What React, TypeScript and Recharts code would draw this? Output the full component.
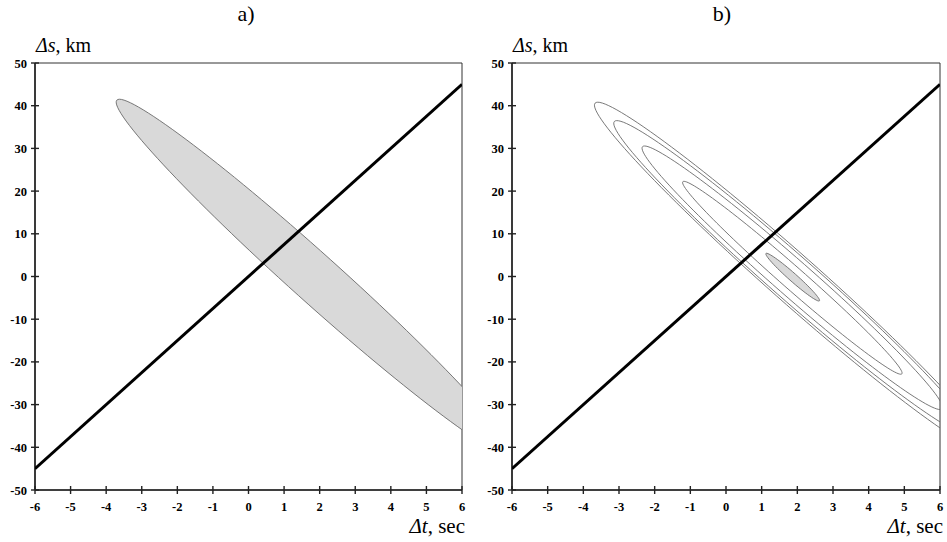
import React from 'react'
import { ScatterChart, Scatter, XAxis, YAxis, ReferenceArea } from 'recharts'

// Δt (sec) / Δs (km) axes
const X_TICKS = [-6, -5, -4, -3, -2, -1, 0, 1, 2, 3, 4, 5, 6]
const Y_TICKS = [-50, -40, -30, -20, -10, 0, 10, 20, 30, 40, 50]

const LINE_PTS = [
  { t: -6, s: -45 },
  { t: 6, s: 45 },
]

// Each ellipse = 4 key points:
// lower-right tip, side, upper-left tip, other side (ends of two conjugate semi-axes)
const REGION_A = [
  { t: 7.42, s: -41.9 },
  { t: 1.41, s: -4.5 },
  { t: -3.7, s: 41.3 },
  { t: 2.31, s: 3.9 },
]

const CONTOUR_1 = [
  { t: 7.39, s: -41.2 },
  { t: 1.41, s: -4.5 },
  { t: -3.67, s: 40.6 },
  { t: 2.31, s: 3.9 },
]
const CONTOUR_2 = [
  { t: 6.85, s: -36.9 },
  { t: 1.45, s: -4.15 },
  { t: -3.13, s: 36.3 },
  { t: 2.27, s: 3.55 },
]
const CONTOUR_3 = [
  { t: 6.06, s: -31.0 },
  { t: 1.525, s: -3.45 },
  { t: -2.34, s: 30.4 },
  { t: 2.195, s: 2.85 },
]
const CONTOUR_4 = [
  { t: 4.93, s: -22.8 },
  { t: 1.65, s: -2.27 },
  { t: -1.21, s: 22.2 },
  { t: 2.07, s: 1.67 },
]
const CORE = [
  { t: 2.62, s: -5.7 },
  { t: 1.795, s: -0.85 },
  { t: 1.12, s: 5.4 },
  { t: 1.945, s: 0.55 },
]

const SERIF = "'Liberation Serif', 'Times New Roman', Times, serif"
const AXIS = '#222'

type Pt = { x: number; y: number }

// closed ellipse through 4 conjugate points (already in pixels), 4 cubic arcs
function ellipseD(pts: Pt[]) {
  const [p0, p1, p2, p3] = pts
  const cx = (p0.x + p2.x) / 2
  const cy = (p0.y + p2.y) / 2
  const ax = (p0.x - p2.x) / 2
  const ay = (p0.y - p2.y) / 2
  const bx = (p1.x - p3.x) / 2
  const by = (p1.y - p3.y) / 2
  const k = 0.5523
  const P = (u: number, v: number) => `${cx + u * ax + v * bx},${cy + u * ay + v * by}`
  return (
    `M${P(1, 0)}` +
    `C${P(1, k)} ${P(k, 1)} ${P(0, 1)}` +
    `C${P(-k, 1)} ${P(-1, k)} ${P(-1, 0)}` +
    `C${P(-1, -k)} ${P(-k, -1)} ${P(0, -1)}` +
    `C${P(k, -1)} ${P(1, -k)} ${P(1, 0)}Z`
  )
}

const ellipseLine = (fill: string) => (p: any) => (
  <path d={ellipseD(p.points)} fill={fill} stroke="#6a6a6a" strokeWidth={0.9} />
)

const noShape = () => <g />

// ticks cross the axis line, labels in bold serif
const renderXTick = (props: any) => {
  const { x, y, payload } = props
  return (
    <g key={`xt-${payload.value}`}>
      <line x1={x} x2={x} y1={y - 4} y2={y + 4} stroke={AXIS} strokeWidth={1.4} />
      <text x={x} y={y + 21} textAnchor="middle" fontFamily={SERIF} fontWeight="bold" fontSize={12.5} fill="#000">
        {payload.value}
      </text>
    </g>
  )
}

const renderYTick = (props: any) => {
  const { x, y, payload } = props
  return (
    <g key={`yt-${payload.value}`}>
      <line x1={x - 4} x2={x + 4} y1={y} y2={y} stroke={AXIS} strokeWidth={1.4} />
      <text x={x - 8} y={y + 4.5} textAnchor="end" fontFamily={SERIF} fontWeight="bold" fontSize={12.5} fill="#000">
        {payload.value}
      </text>
    </g>
  )
}

type PanelProps = {
  left: number
  width: number
  plotLeft: number
  plotRight: number
  title: string
  titleX: number
  children: React.ReactNode
}

const Y_AXIS_W = 30
const X_AXIS_H = 40
const PLOT_TOP = 63
const PLOT_BOTTOM = 490

function Panel({ left, width, plotLeft, plotRight, title, titleX, children }: PanelProps) {
  const margin = {
    top: PLOT_TOP,
    right: width - plotRight,
    bottom: 542 - PLOT_BOTTOM - X_AXIS_H,
    left: plotLeft - Y_AXIS_W,
  }
  return (
    <div style={{ position: 'absolute', left, top: 0, width, height: 542 }}>
      <div
        style={{
          position: 'absolute',
          left: titleX - 20,
          width: 40,
          top: 0,
          textAlign: 'center',
          fontFamily: SERIF,
          fontSize: 22,
          lineHeight: '28px',
        }}
      >
        {title}
      </div>
      <div
        style={{
          position: 'absolute',
          left: plotLeft + 1,
          top: 33,
          fontFamily: SERIF,
          fontSize: 20,
          lineHeight: '24px',
          whiteSpace: 'nowrap',
        }}
      >
        <i>Δs</i>, km
      </div>
      <div
        style={{
          position: 'absolute',
          left: plotRight - 120,
          width: 123,
          top: 513,
          textAlign: 'right',
          fontFamily: SERIF,
          fontSize: 21,
          lineHeight: '26px',
          whiteSpace: 'nowrap',
        }}
      >
        <i>Δt</i>, sec
      </div>
      <ScatterChart width={width} height={542} margin={margin} style={{ position: 'absolute', left: 0, top: 0 }}>
        <XAxis
          type="number"
          dataKey="t"
          domain={[-6, 6]}
          ticks={X_TICKS}
          allowDataOverflow
          height={X_AXIS_H}
          tickSize={0}
          tickMargin={0}
          tickLine={false}
          tick={renderXTick}
          axisLine={{ stroke: AXIS, strokeWidth: 1.6 }}
          interval={0}
        />
        <YAxis
          type="number"
          dataKey="s"
          domain={[-50, 50]}
          ticks={Y_TICKS}
          allowDataOverflow
          width={Y_AXIS_W}
          tickSize={0}
          tickMargin={0}
          tickLine={false}
          tick={renderYTick}
          axisLine={{ stroke: AXIS, strokeWidth: 1.6 }}
          interval={0}
        />
        <ReferenceArea x1={-6} x2={6} y1={-50} y2={50} fill="none" stroke="#333" strokeWidth={1} ifOverflow="visible" />
        {children}
      </ScatterChart>
    </div>
  )
}

export default function App() {
  return (
    <div style={{ position: 'absolute', left: 0, top: 0, width: 947, height: 542, background: '#fff' }}>
      <Panel left={0} width={475} plotLeft={35} plotRight={462} title="a)" titleX={246}>
        <Scatter data={REGION_A} line={ellipseLine('#d9d9d9')} shape={noShape} isAnimationActive={false} />
        <Scatter data={LINE_PTS} line={{ stroke: '#000', strokeWidth: 3 }} shape={noShape} isAnimationActive={false} />
      </Panel>
      <Panel left={475} width={472} plotLeft={37} plotRight={465} title="b)" titleX={247}>
        <Scatter data={CONTOUR_1} line={ellipseLine('none')} shape={noShape} isAnimationActive={false} />
        <Scatter data={CONTOUR_2} line={ellipseLine('none')} shape={noShape} isAnimationActive={false} />
        <Scatter data={CONTOUR_3} line={ellipseLine('none')} shape={noShape} isAnimationActive={false} />
        <Scatter data={CONTOUR_4} line={ellipseLine('none')} shape={noShape} isAnimationActive={false} />
        <Scatter data={CORE} line={ellipseLine('#d9d9d9')} shape={noShape} isAnimationActive={false} />
        <Scatter data={LINE_PTS} line={{ stroke: '#000', strokeWidth: 3 }} shape={noShape} isAnimationActive={false} />
      </Panel>
    </div>
  )
}
